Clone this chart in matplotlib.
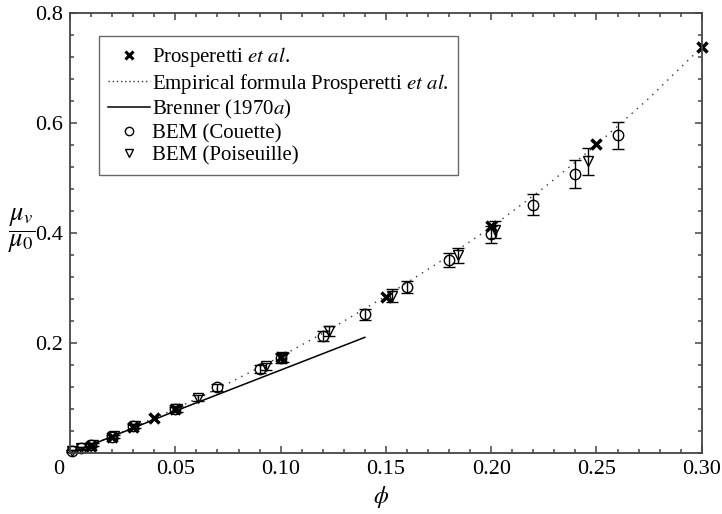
import matplotlib
matplotlib.use("Agg")
import matplotlib.pyplot as plt
import matplotlib.transforms as mtransforms
from matplotlib.lines import Line2D
from matplotlib.ticker import MultipleLocator

plt.rcParams["font.family"] = ["Liberation Serif", "DejaVu Serif"]
plt.rcParams["mathtext.fontset"] = "stix"

# Prosperetti et al. (crosses)
pros_phi = [0.01, 0.02, 0.03, 0.04, 0.05, 0.10, 0.15, 0.20, 0.25, 0.30]
pros_mu = [0.013, 0.029, 0.047, 0.063, 0.080, 0.174, 0.284, 0.413, 0.561, 0.737]

# empirical formula (dotted)
emp_phi = [0.0, 0.025, 0.05, 0.075, 0.10, 0.125, 0.15, 0.175, 0.20, 0.225, 0.25, 0.275, 0.30]
emp_mu = [0.0, 0.038, 0.080, 0.126, 0.175, 0.228, 0.285, 0.346, 0.410, 0.482, 0.560, 0.645, 0.738]

# Brenner (1970a)
bren_phi = [0.004, 0.05, 0.14]
bren_mu = [0.005, 0.076, 0.210]

# BEM (Couette)
cou_phi = [0.001, 0.005, 0.01, 0.02, 0.03, 0.05, 0.07, 0.09, 0.10, 0.12, 0.14,
           0.16, 0.18, 0.20, 0.22, 0.24, 0.26]
cou_mu = [0.003, 0.008, 0.014, 0.029, 0.048, 0.079, 0.119, 0.152, 0.172, 0.212, 0.252,
          0.301, 0.351, 0.397, 0.451, 0.507, 0.577]
cou_err = [0.002, 0.002, 0.003, 0.003, 0.004, 0.005, 0.006, 0.007, 0.008, 0.009, 0.010,
           0.011, 0.013, 0.015, 0.019, 0.025, 0.025]

# BEM (Poiseuille)
poi_phi = [0.001, 0.005, 0.011, 0.021, 0.031, 0.051, 0.061, 0.093, 0.101, 0.123,
           0.153, 0.184, 0.202, 0.246]
poi_mu = [0.004, 0.009, 0.015, 0.030, 0.049, 0.080, 0.100, 0.157, 0.174, 0.221,
          0.286, 0.359, 0.406, 0.530]
poi_err = [0.002, 0.002, 0.003, 0.003, 0.004, 0.005, 0.006, 0.007, 0.008, 0.009,
           0.011, 0.013, 0.015, 0.024]

fig = plt.figure(figsize=(7.22, 5.14), dpi=100)
ax = fig.add_axes([0.097, 0.119, 0.875, 0.856])

ax.plot(emp_phi, emp_mu, color="#333333", lw=1.0, ls=(0, (1, 4)))
ax.plot(bren_phi, bren_mu, color="black", lw=1.1)

eb_kw = dict(mfc="none", mec="black", mew=1.0, ms=7.5, ecolor="black",
             elinewidth=1.0, capsize=4.5, capthick=1.0, clip_on=False, ls="none")
ax.errorbar(cou_phi, cou_mu, yerr=cou_err, fmt="o", **eb_kw)
ax.errorbar(poi_phi, poi_mu, yerr=poi_err, fmt="v", **eb_kw)
ax.plot(pros_phi, pros_mu, "x", color="black", ms=7.5, mew=2.5, ls="none", clip_on=False)

ax.set_xlim(0, 0.30)
ax.set_ylim(0, 0.8)
ax.set_xticks([0, 0.05, 0.10, 0.15, 0.20, 0.25, 0.30])
ax.set_xticklabels(["0", "0.05", "0.10", "0.15", "0.20", "0.25", "0.30"])
ax.set_yticks([0.2, 0.4, 0.6, 0.8])
ax.set_yticklabels(["0.2", "0.4", "0.6", "0.8"])
ax.xaxis.set_minor_locator(MultipleLocator(0.01))
ax.yaxis.set_minor_locator(MultipleLocator(0.04))
ax.tick_params(which="both", direction="in", top=True, right=True,
               color="#444444", labelsize=16)
ax.tick_params(which="major", length=5, width=1.1, pad=5)
ax.tick_params(which="minor", length=2.6, width=1.1)
for s in ax.spines.values():
    s.set_color("#444444")
    s.set_linewidth(1.3)

# the corner "0" sits left of the origin
lab0 = ax.get_xticklabels()[0]
lab0.set_transform(lab0.get_transform() + mtransforms.ScaledTranslation(-11 / 100, 0, fig.dpi_scale_trans))

ax.set_xlabel(r"$\phi$", fontsize=17, va="center")
ax.xaxis.set_label_coords(0.493, -0.10)
ax.set_ylabel(r"$\dfrac{\mu_v}{\mu_0}$", fontsize=19, rotation=0, va="center", ha="center")
ax.yaxis.set_label_coords(-0.076, 0.504)

handles = [
    Line2D([], [], ls="none", marker="x", color="black", ms=6, mew=2.2),
    Line2D([], [], color="#333333", lw=1.0, ls=(0, (1, 2))),
    Line2D([], [], color="black", lw=1.1),
    Line2D([], [], ls="none", marker="o", mfc="none", mec="black", ms=6, mew=1.0),
    Line2D([], [], ls="none", marker="v", mfc="none", mec="black", ms=6, mew=1.0),
]
labels = [
    r"Prosperetti $\mathit{et\ al}$.",
    r"Empirical formula Prosperetti $\mathit{et\ al}$.",
    r"Brenner (1970$\mathit{a}$)",
    "BEM (Couette)",
    "BEM (Poiseuille)",
]
leg = ax.legend(handles, labels, loc="upper left", bbox_to_anchor=(0.046, 0.948),
                borderaxespad=0, fontsize=15, frameon=True, fancybox=False,
                handlelength=2.0, handletextpad=0.1, borderpad=0.45,
                labelspacing=0.12)
leg.get_frame().set_edgecolor("#444444")
leg.get_frame().set_linewidth(1.0)

fig.savefig("out.png", dpi=100)
